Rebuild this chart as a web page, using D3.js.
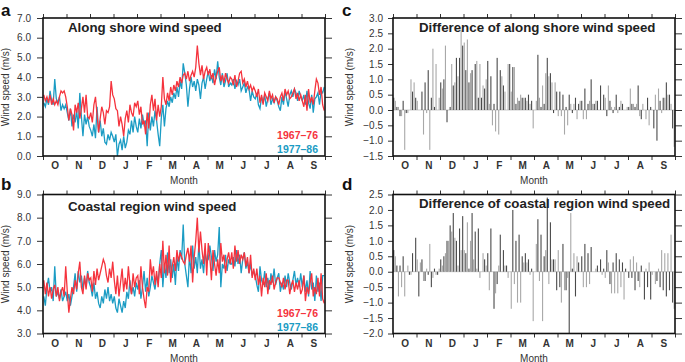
<!DOCTYPE html>
<html>
<head>
<meta charset="utf-8">
<script src="https://cdn.jsdelivr.net/npm/d3@7"></script>
<style>
  body { margin: 0; background: #fff; }
  svg { display: block; }
</style>
</head>
<body>
<script>
// months from October to September, 15 readings per month
var months = ["O", "N", "D", "J", "F", "M", "A", "M", "J", "J", "A", "S"];

var alongRed = [
  3.1, 2.8, 3.0, 2.7, 3.1, 2.6, 2.9, 2.6, 2.8, 2.6, 3.0, 3.3, 3.2, 3.3, 3.0,
  2.5, 1.8, 2.4, 2.1, 1.3, 2.6, 2.2, 2.7, 1.9, 2.4, 3.0, 2.2, 3.1, 2.0, 1.9,
  2.2, 1.7, 2.6, 3.0, 2.1, 1.2, 1.9, 2.5, 2.2, 1.6, 2.3, 2.2, 2.5, 3.8, 3.1,
  2.9, 2.4, 2.3, 1.5, 2.0, 1.6, 1.0, 1.9, 2.3, 1.7, 2.6, 2.2, 2.0, 2.7, 2.5,
  2.8, 2.1, 2.5, 1.6, 1.8, 1.1, 2.2, 1.4, 2.6, 3.1, 2.3, 2.9, 1.8, 2.6, 2.0,
  2.5, 4.0, 2.9, 2.6, 3.2, 2.8, 3.5, 3.1, 3.6, 3.3, 3.8, 3.5, 4.0, 3.7, 4.1,
  4.2, 3.9, 4.3, 3.8, 4.1, 4.3, 4.0, 4.5, 5.6, 4.7, 4.1, 4.6, 3.9, 4.3, 4.5,
  4.1, 4.4, 3.9, 4.2, 3.6, 4.0, 4.3, 4.5, 3.8, 4.1, 3.7, 4.2, 3.9, 3.7, 4.0,
  3.9, 3.6, 4.1, 3.5, 3.8, 4.2, 4.3, 3.7, 3.9, 3.5, 3.8, 3.4, 3.6, 3.3, 3.5,
  3.3, 3.0, 3.4, 2.7, 3.1, 2.6, 3.2, 3.0, 2.8, 3.3, 2.9, 3.1, 2.7, 3.0, 2.9,
  2.6, 3.0, 3.2, 2.8, 3.4, 3.1, 3.3, 2.9, 3.0, 3.2, 3.4, 2.9, 3.2, 2.8, 3.1,
  2.8, 2.5, 3.1, 2.3, 3.4, 2.7, 3.0, 2.6, 3.3, 3.9, 3.7, 3.1, 3.5, 2.6, 2.3
];
var alongBlue = [
  2.7, 2.5, 2.9, 2.6, 3.3, 2.8, 2.6, 3.9, 2.9, 2.7, 3.0, 2.3, 2.6, 2.4, 2.6,
  2.2, 1.8, 2.4, 1.5, 2.1, 1.7, 2.3, 1.4, 3.2, 2.0, 1.0, 2.1, 1.6, 2.0, 1.5,
  1.3, 1.0, 1.6, 0.9, 2.5, 1.2, 1.8, 1.0, 1.4, 0.7, 0.6, 1.1, 0.8, 1.2, 1.0,
  0.7, 1.1, 0.0, 0.6, 0.8, 0.3, 1.0, 0.4, 0.7, 1.3, 1.1, 1.8, 1.2, 2.0, 1.5,
  1.2, 1.9, 1.4, 2.1, 1.6, 1.8, 0.5, 2.2, 1.3, 2.0, 1.5, 2.3, 1.8, 1.1, 0.5,
  1.9, 2.6, 1.5, 2.4, 2.8, 2.5, 3.0, 2.7, 3.2, 2.9, 3.5, 3.0, 3.8, 3.4, 4.7,
  4.2, 3.6, 2.5, 3.4, 4.0, 3.5, 3.8, 3.3, 3.9, 3.6, 2.9, 3.7, 4.0, 3.4, 3.9,
  4.3, 3.8, 4.1, 3.7, 4.4, 3.9, 4.8, 4.0, 3.6, 4.2, 3.5, 3.8, 4.2, 3.5, 3.7,
  3.6, 3.9, 3.4, 3.8, 3.6, 3.9, 3.3, 3.5, 3.7, 3.2, 3.5, 3.4, 2.8, 3.3, 3.0,
  2.9, 3.2, 2.6, 2.4, 3.0, 2.7, 3.1, 2.5, 2.9, 3.2, 2.6, 2.9, 2.7, 3.0, 2.8,
  2.5, 2.3, 3.0, 2.6, 3.3, 2.9, 2.5, 3.1, 3.3, 3.0, 3.4, 3.2, 2.8, 3.3, 3.0,
  2.8, 3.1, 2.6, 3.3, 2.7, 2.4, 3.1, 2.2, 2.9, 3.0, 3.2, 2.6, 3.3, 3.2, 3.5
];
var coastRed = [
  5.3, 4.7, 5.2, 4.6, 5.0, 4.5, 4.9, 5.1, 4.6, 5.0, 4.4, 4.8, 5.0, 4.6, 5.9,
  4.8, 3.9, 4.5, 5.0, 4.7, 5.3, 4.9, 5.6, 6.1, 5.0, 4.7, 5.5, 4.9, 5.6, 5.3,
  5.4, 4.8, 5.7, 5.1, 5.8, 5.3, 5.6, 5.9, 6.2, 6.0, 5.5, 5.2, 5.8, 5.4, 6.1,
  5.3, 4.7, 5.5, 4.6, 5.2, 5.8, 4.8, 5.4, 4.9, 5.9, 5.1, 4.7, 5.6, 5.0, 5.4,
  5.5, 4.7, 5.9, 5.0, 4.5, 4.1, 5.0, 4.8, 6.2, 5.5, 5.9, 5.1, 5.7, 5.0, 6.0,
  5.4, 7.0, 5.6, 6.4, 5.5, 6.8, 5.2, 5.9, 6.3, 5.7, 6.6, 6.1, 6.5, 6.3, 6.1,
  6.0, 6.4, 6.7, 6.1, 6.8, 5.2, 6.3, 7.0, 8.0, 6.5, 7.4, 6.6, 6.0, 6.9, 5.5,
  6.9, 6.3, 5.3, 6.6, 6.0, 5.5, 6.2, 5.6, 6.9, 6.1, 6.4, 5.6, 6.2, 6.5, 6.0,
  6.5, 5.8, 6.8, 6.1, 6.6, 6.0, 6.4, 6.2, 6.5, 5.9, 6.3, 5.6, 6.4, 5.4, 5.8,
  5.3, 5.8, 5.1, 5.5, 4.6, 5.4, 5.0, 5.6, 4.7, 5.3, 5.1, 5.5, 4.9, 5.2, 5.4,
  5.4, 5.2, 5.0, 5.4, 4.9, 5.3, 5.3, 4.7, 5.1, 5.3, 4.8, 5.2, 4.9, 5.3, 4.7,
  4.9, 5.5, 4.4, 5.0, 4.7, 5.2, 5.6, 4.6, 5.0, 4.7, 5.4, 4.6, 5.6, 4.5, 4.3
];
var coastBlue = [
  4.6, 4.2, 5.0, 5.4, 4.8, 5.0, 4.4, 5.9, 4.6, 4.8, 4.5, 4.9, 4.4, 4.6, 4.8,
  4.4, 4.7, 4.2, 4.6, 5.0, 5.6, 4.8, 5.7, 5.2, 5.5, 4.9, 5.4, 5.0, 5.7, 5.2,
  5.0, 4.6, 5.2, 4.5, 4.8, 4.3, 4.1, 4.6, 4.3, 4.9, 4.5, 5.0, 4.4, 4.7, 4.3,
  4.6, 4.1, 3.9, 4.5, 4.2, 3.9, 4.4, 4.1, 4.8, 4.5, 5.3, 4.7, 5.0, 4.6, 5.2,
  4.9, 5.3, 4.5, 5.0, 5.7, 4.8, 5.4, 4.6, 5.0, 5.5, 5.2, 4.9, 5.5, 5.2, 6.0,
  6.6, 5.0, 6.0, 5.4, 6.5, 5.6, 6.2, 5.4, 6.0, 5.1, 6.3, 5.7, 6.6, 6.2, 7.7,
  6.0, 5.5, 5.0, 6.4, 5.6, 6.8, 5.8, 6.3, 5.6, 6.9, 5.8, 6.2, 5.6, 6.5, 6.1,
  6.2, 6.8, 6.3, 5.7, 6.6, 6.1, 6.4, 7.6, 5.0, 6.0, 5.8, 6.4, 5.7, 6.2, 6.0,
  6.0, 6.3, 5.9, 6.6, 6.0, 6.4, 5.6, 6.2, 6.5, 5.8, 6.1, 5.6, 6.0, 5.5, 5.7,
  5.5, 5.1, 4.8, 5.9, 5.3, 5.1, 5.7, 5.0, 5.4, 4.9, 5.6, 5.2, 5.8, 5.1, 5.4,
  5.6, 4.8, 5.2, 4.9, 5.5, 5.0, 5.6, 5.2, 4.9, 5.3, 5.7, 5.1, 5.4, 5.0, 5.6,
  5.0, 5.5, 4.8, 5.3, 4.6, 5.7, 4.9, 5.2, 4.4, 5.5, 4.8, 5.2, 4.4, 5.5, 5.5
];

var alongTicks = [0, 1, 2, 3, 4, 5, 6, 7];
var coastTicks = [3, 4, 5, 6, 7, 8, 9];
var diffAlongTicks = [-1.5, -1, -0.5, 0, 0.5, 1, 1.5, 2, 2.5, 3];
var diffCoastTicks = [-2, -1.5, -1, -0.5, 0, 0.5, 1, 1.5, 2, 2.5];
var periods = ["1967\u201376", "1977\u201386"];

var red = "#f5333d", blue = "#1b9cc4";
var ff = "'Liberation Sans', Arial, Helvetica, sans-serif";

var svg = d3.select("body").append("svg")
  .attr("width", 685)
  .attr("height", 362)
  .style("font-family", ff);

var nPts = alongRed.length;
var perMonth = nPts / months.length;
var monthEdges = d3.range(months.length + 1).map(function(m) { return m * perMonth; });
var monthMids = d3.range(months.length).map(function(m) { return (m + 0.5) * perMonth; });
var fmt = d3.format(".1f");

function drawPanel(p) {
  var x = d3.scaleLinear().domain([0, nPts]).range([p.left, p.right]);
  var y = d3.scaleLinear().domain([p.ticks[0], p.ticks[p.ticks.length - 1]]).range([p.bottom, p.top]);
  var g = svg.append("g");

  // axes
  g.append("g").attr("class", "ax")
    .attr("transform", "translate(" + p.left + ",0)")
    .call(d3.axisLeft(y).tickValues(p.ticks).tickSize(p.tickLen).tickPadding(p.pad).tickFormat(fmt));
  g.append("g").attr("class", "ax")
    .attr("transform", "translate(" + p.right + ",0)")
    .call(d3.axisRight(y).tickValues(p.ticks).tickSize(7).tickFormat(""));
  g.append("g").attr("class", "ax")
    .attr("transform", "translate(0," + p.bottom + ")")
    .call(d3.axisBottom(x).tickValues(monthEdges).tickSize(4).tickFormat(""));
  g.append("g").attr("class", "ax")
    .attr("transform", "translate(0," + p.top + ")")
    .call(d3.axisTop(x).tickValues(monthEdges).tickSize(4).tickFormat(""));
  var ml = g.append("g").attr("class", "ax")
    .attr("transform", "translate(0," + p.bottom + ")")
    .call(d3.axisBottom(x).tickValues(monthMids).tickSize(0).tickPadding(6)
      .tickFormat(function(d, i) { return months[i]; }));
  ml.selectAll("text").style("font-weight", "bold").style("font-size", "10px");

  g.selectAll(".ax").attr("font-family", ff).style("color", "#333");
  g.selectAll(".ax .domain").remove();
  g.selectAll(".ax text").attr("fill", "#333");

  if (p.series) {
    var line = d3.line()
      .x(function(d, i) { return x(i + 0.5); })
      .y(function(d) { return y(d); });
    g.append("path").datum(p.series[1])
      .attr("d", line).attr("fill", "none").attr("stroke", blue).attr("stroke-width", 1.3);
    g.append("path").datum(p.series[0])
      .attr("d", line).attr("fill", "none").attr("stroke", red).attr("stroke-width", 1.3);

    g.append("text").attr("x", p.right - 7).attr("y", p.bottom - 17)
      .attr("text-anchor", "end").style("font-size", "10.5px").style("font-weight", "bold")
      .attr("fill", red).text(periods[0]);
    g.append("text").attr("x", p.right - 7).attr("y", p.bottom - 3)
      .attr("text-anchor", "end").style("font-size", "10.5px").style("font-weight", "bold")
      .attr("fill", blue).text(periods[1]);
  } else {
    // difference between the two periods, one thin bar per reading
    var diff = p.pair[0].map(function(v, i) { return v - p.pair[1][i]; });
    g.append("line")
      .attr("x1", p.left).attr("x2", p.right).attr("y1", y(0)).attr("y2", y(0))
      .attr("stroke", "#aaa").attr("stroke-width", 0.6);
    g.selectAll("rect.bar").data(diff).enter().append("rect")
      .attr("class", "bar")
      .attr("x", function(d, i) { return x(i) + 0.2; })
      .attr("width", function(d, i) { return (x(i + 1) - x(i)) * 0.7; })
      .attr("y", function(d) { return Math.min(y(d), y(0)); })
      .attr("height", function(d) { return Math.abs(y(d) - y(0)); })
      .attr("fill", function(d, i) { return i % 2 ? "#a8a8a8" : "#4a4a4a"; });
  }

  // frame
  g.append("rect")
    .attr("x", p.left).attr("y", p.top)
    .attr("width", p.right - p.left).attr("height", p.bottom - p.top)
    .attr("fill", "none").attr("stroke", "#111").attr("stroke-width", 1.6);

  // texts
  g.append("text").attr("x", p.titleX).attr("y", p.titleY)
    .style("font-size", "13.3px").style("font-weight", "bold").attr("fill", "#222")
    .text(p.title);
  g.append("text").attr("x", p.letterX).attr("y", p.letterY)
    .style("font-size", "17px").style("font-weight", "bold").attr("fill", "#111")
    .text(p.letter);
  g.append("text")
    .attr("transform", "translate(" + p.ylabX + "," + ((p.top + p.bottom) / 2) + ") rotate(-90)")
    .attr("text-anchor", "middle").style("font-size", "10px").attr("fill", "#333")
    .text("Wind speed (m/s)");
  g.append("text").attr("x", (p.left + p.right) / 2).attr("y", p.bottom + 28)
    .attr("text-anchor", "middle").style("font-size", "10px").attr("fill", "#333")
    .text("Month");
}

drawPanel({
  left: 43, right: 325, top: 18, bottom: 156, ticks: alongTicks, tickLen: 6, pad: 6,
  series: [alongRed, alongBlue], title: "Along shore wind speed", titleX: 68, titleY: 32,
  letter: "a", letterX: 1, letterY: 16, ylabX: 9
});
drawPanel({
  left: 43, right: 325, top: 194.5, bottom: 333.5, ticks: coastTicks, tickLen: 6, pad: 6,
  series: [coastRed, coastBlue], title: "Coastal region wind speed", titleX: 68, titleY: 211,
  letter: "b", letterX: 1, letterY: 190, ylabX: 9
});
drawPanel({
  left: 393, right: 675, top: 18, bottom: 156, ticks: diffAlongTicks, tickLen: 5, pad: 5,
  pair: [alongRed, alongBlue], title: "Difference of along shore wind speed", titleX: 419, titleY: 32,
  letter: "c", letterX: 342, letterY: 16, ylabX: 353
});
drawPanel({
  left: 393, right: 675, top: 194.5, bottom: 333.5, ticks: diffCoastTicks, tickLen: 5, pad: 5,
  pair: [coastRed, coastBlue], title: "Difference of coastal region wind speed", titleX: 419, titleY: 208,
  letter: "d", letterX: 342, letterY: 190, ylabX: 353
});
</script>
</body>
</html>
